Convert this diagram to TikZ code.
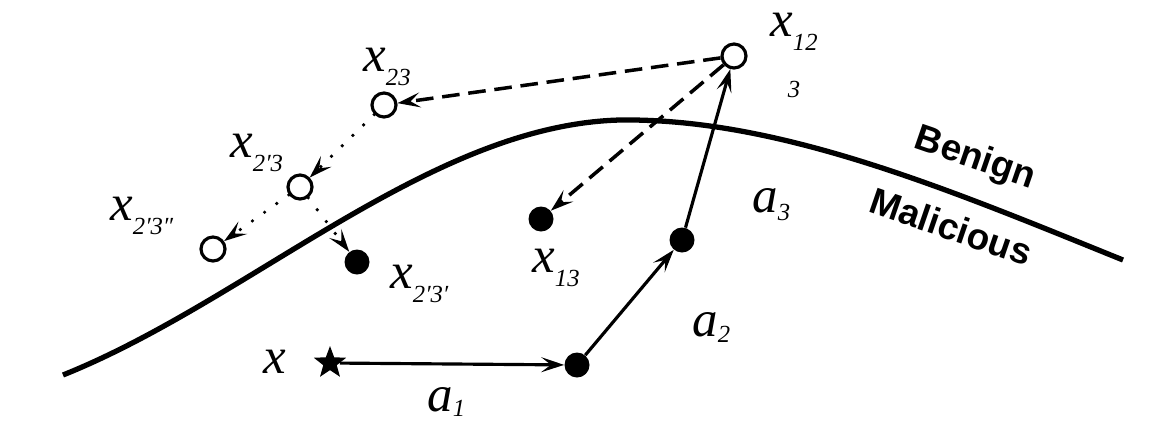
\documentclass[tikz,border=0pt]{standalone}
\usepackage{fontspec}
\setmainfont{Liberation Serif}
\setsansfont{Liberation Sans}
\usetikzlibrary{arrows.meta,shapes.geometric}
\tikzstyle{fulldot}   = [circle, fill=black, minimum size=0.5cm, inner sep=0pt]
\tikzstyle{opendot}   = [circle, draw=black, fill=white, line width=1.8pt, minimum size=0.48cm, inner sep=0pt]
\tikzstyle{arrow}     = [line width=1.8pt,-{Stealth[length=13pt,width=8.5pt,inset=5.5pt]}]
\tikzstyle{dasharrow} = [arrow, line width=2pt, dash pattern=on 10pt off 5pt]
\tikzstyle{dotarrow}  = [arrow, line width=2.1pt, line cap=round, dash pattern=on 0pt off 8.5pt]
\newcommand{\lbl}[3][8pt]{\textit{#2}\raisebox{-#1}{\fontsize{14}{14}\selectfont\textit{#3}}}

\begin{document}
\begin{tikzpicture}[x=0.02cm, y=-0.02cm,
		lab/.style={font=\fontsize{29}{29}\selectfont, inner sep=0pt, anchor=base west},
		side/.style={font=\sffamily\bfseries\fontsize{21}{21}\selectfont, inner sep=0pt, anchor=base, rotate=-19}]
	\useasboundingbox (0,0) rectangle (1149,427);

	% decision boundary
	\draw[line width=3pt] (63,375) .. controls (250,300) and (430,125) .. (620,120)
		.. controls (780,118) and (950,190) .. (1123,260);
	\node[side] (benign) at (972,168) {Benign};
	\node[side] (malicious) at (947,239) {Malicious};

	% points
	\node[star, star points=5, star point ratio=2.4, fill=black, minimum size=0.68cm, inner sep=0pt] (x) at (330,363) {};
	\node[fulldot] (p1) at (577,365) {};
	\node[fulldot] (p2) at (682,240) {};
	\node[opendot] (x12) at (734,56) {};
	\node[fulldot] (x13) at (541,219) {};
	\node[opendot] (x23) at (384,105) {};
	\node[opendot] (x2p3) at (300,187) {};
	\node[opendot] (x2p3pp) at (213,249) {};
	\node[fulldot] (x2p3p) at (357,262) {};

	% moves
	\draw[arrow] (x) -- (p1);
	\draw[arrow] (p1) -- (p2);
	\draw[arrow] (p2) -- (x12);
	\draw[dasharrow] (x12) -- (x23);
	\draw[dasharrow] (x12) -- (x13);
	\draw[dotarrow] (x23) -- (x2p3);
	\draw[dotarrow] (x2p3) -- (x2p3pp);
	\draw[dotarrow] (x2p3) -- (x2p3p);

	% labels
	\node[lab] (lx) at (263,373) {\textit{x}};
	\node[lab] (la1) at (427,411) {\lbl[3pt]{a}{1}};
	\node[lab] (la2) at (692,336) {\lbl[3.5pt]{a}{2}};
	\node[lab] (la3) at (752,212) {\lbl[5pt]{a}{3}};
	\node[lab] (l12) at (770,36) {\lbl{x}{12}};
	\node[font=\fontsize{14}{14}\selectfont, inner sep=0pt] (l3) at (794,89) {\textit{3}};
	\node[lab] (l13) at (532,272) {\lbl{x}{13}};
	\node[lab] (l23) at (363,71) {\lbl{x}{23}};
	\node[lab] (l2p3) at (230,157) {\lbl{x}{2′3}};
	\node[lab] (l2p3pp) at (110,220) {\lbl{x}{2′3″}};
	\node[lab] (l2p3p) at (390,288) {\lbl{x}{2′3′}};
\end{tikzpicture}
\end{document}
